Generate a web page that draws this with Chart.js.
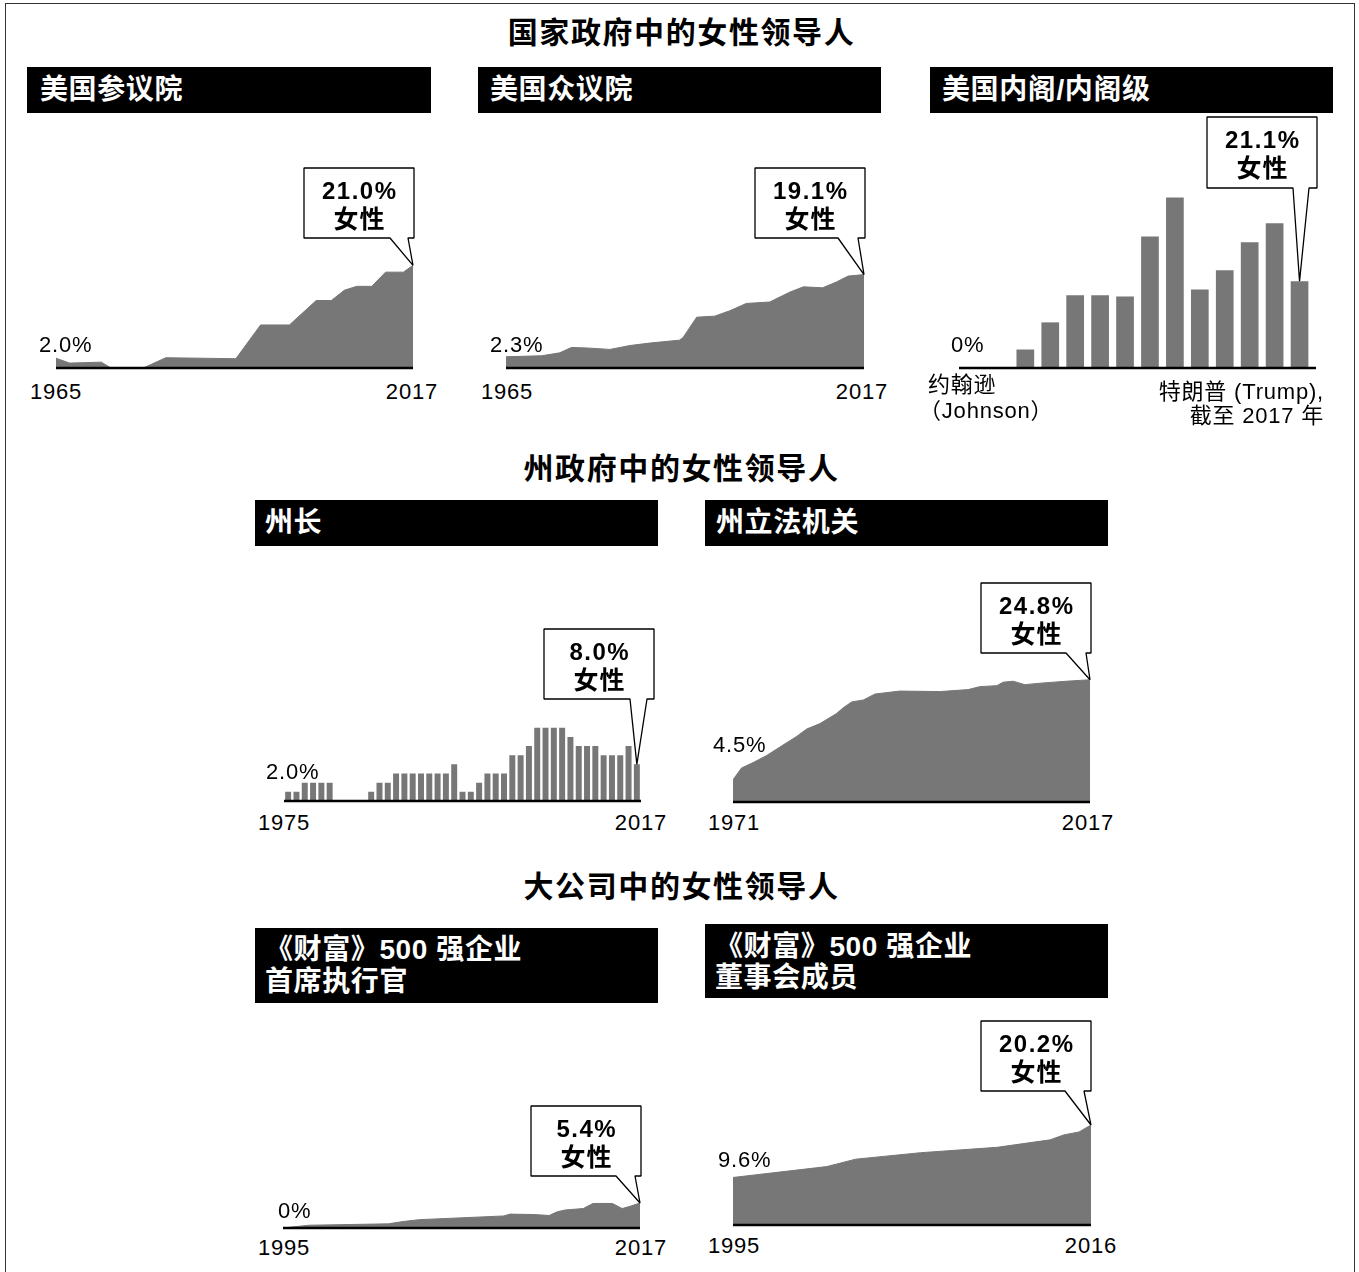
<!DOCTYPE html>
<html>
<head>
<meta charset="utf-8">
<script src="https://cdn.jsdelivr.net/npm/chart.js@4.4.1/dist/chart.umd.min.js"></script>
<style>
  body { margin: 0; width: 1359px; height: 1272px; position: relative; background: #fff; overflow: hidden;
         font-family: "Liberation Sans", "Noto Sans CJK SC", sans-serif; }
  .frame { position: absolute; left: 5px; top: 3px; width: 1348px; height: 1300px; border: 1px solid #333; }
  .title { position: absolute; left: 0; width: 1363px; text-align: center; font-family: "Noto Sans CJK SC", sans-serif;
           font-weight: bold; font-size: 30px; letter-spacing: 1.6px; line-height: 40px; color: #000; }
  .hdr { position: absolute; background: #000; color: #fff; font-weight: bold; font-size: 28px; letter-spacing: 0.6px;
         box-sizing: border-box; white-space: nowrap; }
  .panel { position: absolute; }
  .lbl { position: absolute; font-size: 22px; letter-spacing: 0.8px; line-height: 24px; white-space: nowrap; color: #000; }
</style>
</head>
<body>
<div class="frame"></div>

<div class="title" style="top:10px">国家政府中的女性领导人</div>
<div class="title" style="top:446px">州政府中的女性领导人</div>
<div class="title" style="top:864px">大公司中的女性领导人</div>

<div class="hdr" style="left:27px;top:67px;width:404px;height:46px;line-height:46px;padding-left:13px">美国参议院</div>
<div class="hdr" style="left:478px;top:67px;width:403px;height:46px;line-height:46px;padding-left:12px">美国众议院</div>
<div class="hdr" style="left:930px;top:67px;width:403px;height:46px;line-height:46px;padding-left:12px">美国内阁/内阁级</div>
<div class="hdr" style="left:255px;top:500px;width:403px;height:46px;line-height:46px;padding-left:10px">州长</div>
<div class="hdr" style="left:705px;top:500px;width:403px;height:46px;line-height:46px;padding-left:11px">州立法机关</div>
<div class="hdr" style="left:255px;top:928px;width:403px;height:75px;line-height:32px;padding:6px 0 0 10px">《财富》500 强企业<br>首席执行官</div>
<div class="hdr" style="left:705px;top:924px;width:403px;height:74px;line-height:31px;padding:7px 0 0 10px">《财富》500 强企业<br>董事会成员</div>

<script>
// ---- data ----
const senateYears = [1965, 1967, 1971.6, 1973, 1977.7, 1981, 1991.2, 1994.8, 1999, 2002.9, 2005.1, 2007, 2008.8, 2011, 2013, 2015.6, 2017];
const senateValues = [2.0, 1.0, 1.2, 0, 0, 2.1, 1.9, 8.8, 8.8, 13.8, 13.8, 15.9, 16.7, 16.7, 19.6, 19.6, 21.0];

const houseYears = [1965, 1970.2, 1972.8, 1974.5, 1976.7, 1980.1, 1983, 1985.9, 1990.2, 1990.7, 1992.7, 1995.3, 1997.5, 1999.9, 2003.3, 2006.2, 2008.2, 2011, 2013, 2014.7, 2017];
const houseValues = [2.3, 2.5, 3.1, 4.2, 4.1, 3.8, 4.6, 5.1, 5.7, 6.2, 10.4, 10.6, 11.7, 13.2, 13.5, 15.5, 16.6, 16.4, 17.6, 18.8, 19.1];

const cabinetLabels = ['约翰逊', '尼克松', '福特', '卡特', '里根 I', '里根 II', '老布什', '克林顿 I', '克林顿 II',
                       '小布什 I', '小布什 II', '奥巴马 I', '奥巴马 II', '特朗普'];
const cabinetValues = [0, 0, 4.5, 11.1, 17.7, 17.7, 17.4, 32.0, 41.5, 19.1, 23.8, 30.6, 35.2, 21.1];

const governorYears = ['1975', '1976', '1977', '1978', '1979', '1980', '1981', '1982', '1983', '1984', '1985',
                       '1986', '1987', '1988', '1989', '1990', '1991', '1992', '1993', '1994', '1995', '1996',
                       '1997', '1998', '1999', '2000', '2001', '2002', '2003', '2004', '2005', '2006', '2007',
                       '2008', '2009', '2010', '2011', '2012', '2013', '2014', '2015', '2016', '2017'];
const governorValues = [2, 2, 4, 4, 4, 4, 0, 0, 0, 0, 2, 4, 4, 6, 6, 6, 6, 6, 6, 6, 8, 2,
                        2, 4, 6, 6, 6, 10, 10, 12, 16, 16, 16, 16, 14, 12, 12, 12, 10, 10, 10, 12, 8];

const stateYears = [1971, 1972.1, 1973.6, 1975.3, 1977.2, 1979.2, 1980.5, 1982.2, 1984.3, 1985.2, 1986.3, 1987.8,
                    1989.3, 1992.5, 1997.7, 2001.3, 2002.8, 2005, 2005.8, 2007.1, 2008.6, 2010.6, 2014, 2017];
const stateValues = [4.5, 6.9, 8.0, 9.4, 11.3, 13.3, 14.8, 15.9, 17.9, 19.1, 20.3, 20.7,
                     21.9, 22.5, 22.4, 22.8, 23.4, 23.6, 24.3, 24.5, 23.8, 24.1, 24.5, 24.8];

const ceoYears = [1995, 1996.6, 2001.5, 2002.4, 2003.4, 2008.6, 2009, 2010.5, 2011.4, 2011.9, 2012.4, 2013.5, 2014.1, 2015.3, 2015.9, 2016.4, 2017];
const ceoValues = [0, 0.6, 0.9, 1.4, 1.8, 2.6, 3.0, 2.9, 2.7, 3.5, 3.9, 4.2, 5.3, 5.3, 4.2, 4.7, 5.4];

const boardYears = [1995, 2000.5, 2002.2, 2006, 2010.5, 2013.6, 2014.4, 2015.3, 2016];
const boardValues = [9.6, 11.8, 13.3, 14.6, 15.7, 17.2, 18.2, 18.8, 20.2];

const GRAY = '#777777';

// baseline + callout drawn on top of each small chart
const panelPlugin = {
  id: 'panel',
  afterDatasetsDraw(chart, args, opts) {
    const ctx = chart.ctx;
    const area = chart.chartArea;
    const y0 = chart.scales.y.getPixelForValue(0);
    ctx.save();
    ctx.strokeStyle = '#000';
    ctx.lineWidth = 2.5;
    ctx.beginPath();
    ctx.moveTo(area.left - opts.extend, y0);
    ctx.lineTo(area.right + opts.extend, y0);
    ctx.stroke();
    ctx.restore();
  },
  afterDraw(chart, args, opts) {
    const c = opts.callout;
    const meta = chart.getDatasetMeta(0);
    const last = meta.data[meta.data.length - 1];
    const ctx = chart.ctx;
    const bottom = c.y + c.h;
    ctx.save();
    ctx.beginPath();
    ctx.moveTo(c.tailL, bottom);
    ctx.lineTo(c.x, bottom);
    ctx.lineTo(c.x, c.y);
    ctx.lineTo(c.x + c.w, c.y);
    ctx.lineTo(c.x + c.w, bottom);
    ctx.lineTo(c.tailR, bottom);
    ctx.lineTo(last.x, last.y);
    ctx.closePath();
    ctx.fillStyle = '#fff';
    ctx.fill();
    ctx.lineJoin = 'bevel';
    ctx.lineWidth = 1.3;
    ctx.strokeStyle = '#000';
    ctx.stroke();
    ctx.fillStyle = '#000';
    ctx.textAlign = 'center';
    ctx.textBaseline = 'middle';
    const cx = c.x + c.w / 2;
    ctx.letterSpacing = '1.5px';
    ctx.font = 'bold 24px "Liberation Sans", sans-serif';
    ctx.fillText(c.pct, cx + 0.75, c.y + 24);
    ctx.letterSpacing = '1px';
    ctx.font = 'bold 25px "Noto Sans CJK SC", sans-serif';
    ctx.fillText('女性', cx + 0.5, c.y + 50);
    ctx.restore();
  }
};

const makePanel = (cfg) => {
  const wrap = document.createElement('div');
  wrap.className = 'panel';
  wrap.style.left = cfg.box.x + 'px';
  wrap.style.top = cfg.box.y + 'px';
  wrap.style.width = cfg.box.w + 'px';
  wrap.style.height = cfg.box.h + 'px';
  const canvas = document.createElement('canvas');
  wrap.appendChild(canvas);
  document.body.appendChild(wrap);

  const top = cfg.plot.b - cfg.yMax * cfg.pxPer;
  const padding = {
    left: cfg.plot.l - cfg.box.x,
    right: cfg.box.x + cfg.box.w - cfg.plot.r,
    top: top - cfg.box.y,
    bottom: cfg.box.y + cfg.box.h - cfg.plot.b
  };
  const callout = {
    x: cfg.callout.x - cfg.box.x, y: cfg.callout.y - cfg.box.y,
    w: cfg.callout.w, h: cfg.callout.h,
    tailL: cfg.callout.tailL - cfg.box.x, tailR: cfg.callout.tailR - cfg.box.x,
    pct: cfg.callout.pct
  };

  let data, xScale;
  if (cfg.type === 'bar') {
    data = {
      labels: cfg.labels,
      datasets: [{ data: cfg.values, backgroundColor: GRAY, barPercentage: cfg.barPct, categoryPercentage: 1 }]
    };
    xScale = { display: false };
  } else {
    data = {
      datasets: [{
        data: cfg.years.map((x, i) => ({ x, y: cfg.values[i] })),
        fill: 'origin', backgroundColor: GRAY, borderColor: GRAY, borderWidth: 1,
        pointRadius: 0, tension: 0
      }]
    };
    xScale = { type: 'linear', display: false, min: cfg.years[0], max: cfg.years[cfg.years.length - 1] };
  }

  new Chart(canvas, {
    type: cfg.type,
    data,
    options: {
      responsive: true,
      maintainAspectRatio: false,
      animation: false,
      events: [],
      layout: { padding },
      scales: { x: xScale, y: { display: false, min: 0, max: cfg.yMax } },
      plugins: {
        legend: { display: false },
        tooltip: { enabled: false },
        panel: { extend: cfg.extend || 0, callout }
      }
    },
    plugins: [panelPlugin]
  });
};

makePanel({ type: 'line', years: senateYears, values: senateValues,
  box: { x: 20, y: 114, w: 430, h: 262 }, plot: { l: 56, r: 413, b: 368 }, yMax: 24, pxPer: 4.89,
  callout: { x: 304, y: 168, w: 110, h: 70, tailL: 390, tailR: 408, pct: '21.0%' } });

makePanel({ type: 'line', years: houseYears, values: houseValues,
  box: { x: 470, y: 114, w: 430, h: 262 }, plot: { l: 506, r: 864, b: 368 }, yMax: 24, pxPer: 4.89,
  callout: { x: 755, y: 168, w: 110, h: 70, tailL: 838, tailR: 858, pct: '19.1%' } });

makePanel({ type: 'bar', labels: cabinetLabels, values: cabinetValues, barPct: 0.71, extend: 4,
  box: { x: 925, y: 110, w: 420, h: 266 }, plot: { l: 963, r: 1312, b: 368 }, yMax: 45, pxPer: 4.11,
  callout: { x: 1207, y: 117, w: 110, h: 71, tailL: 1293, tailR: 1309, pct: '21.1%' } });

makePanel({ type: 'bar', labels: governorYears, values: governorValues, barPct: 0.72,
  box: { x: 250, y: 550, w: 420, h: 258 }, plot: { l: 284, r: 641, b: 801 }, yMax: 20, pxPer: 4.58,
  callout: { x: 544, y: 629, w: 110, h: 70, tailL: 630, tailR: 647, pct: '8.0%' } });

makePanel({ type: 'line', years: stateYears, values: stateValues,
  box: { x: 700, y: 550, w: 420, h: 258 }, plot: { l: 733, r: 1090, b: 802 }, yMax: 27, pxPer: 4.93,
  callout: { x: 981, y: 583, w: 110, h: 70, tailL: 1066, tailR: 1086, pct: '24.8%' } });

makePanel({ type: 'line', years: ceoYears, values: ceoValues,
  box: { x: 250, y: 1005, w: 420, h: 230 }, plot: { l: 283, r: 640, b: 1228 }, yMax: 10, pxPer: 4.63,
  callout: { x: 531, y: 1106, w: 110, h: 70, tailL: 616, tailR: 635, pct: '5.4%' } });

makePanel({ type: 'line', years: boardYears, values: boardValues,
  box: { x: 700, y: 1000, w: 420, h: 232 }, plot: { l: 733, r: 1091, b: 1225 }, yMax: 24, pxPer: 4.95,
  callout: { x: 981, y: 1021, w: 110, h: 70, tailL: 1065, tailR: 1084, pct: '20.2%' } });

// ---- axis annotations (text) ----
const labels = [
  { t: '2.0%', x: 39, cy: 345 }, { t: '1965', x: 30, cy: 392 }, { t: '2017', r: 437, cy: 392 },
  { t: '2.3%', x: 490, cy: 345 }, { t: '1965', x: 481, cy: 392 }, { t: '2017', r: 887, cy: 392 },
  { t: '0%', x: 951, cy: 345 }, { t: '约翰逊', x: 928, cy: 385 }, { t: '（Johnson）', x: 919, cy: 411 },
  { t: '特朗普 (Trump),', r: 1323, cy: 392 }, { t: '截至 2017 年', r: 1323, cy: 416 },
  { t: '2.0%', x: 266, cy: 772 }, { t: '1975', x: 258, cy: 823 }, { t: '2017', r: 666, cy: 823 },
  { t: '4.5%', x: 713, cy: 745 }, { t: '1971', x: 708, cy: 823 }, { t: '2017', r: 1113, cy: 823 },
  { t: '0%', x: 278, cy: 1211 }, { t: '1995', x: 258, cy: 1248 }, { t: '2017', r: 666, cy: 1248 },
  { t: '9.6%', x: 718, cy: 1160 }, { t: '1995', x: 708, cy: 1246 }, { t: '2016', r: 1116, cy: 1246 }
];
labels.forEach(l => {
  const d = document.createElement('div');
  d.className = 'lbl';
  d.textContent = l.t;
  d.style.top = (l.cy - 12) + 'px';
  if (l.r !== undefined) d.style.right = (1359 - l.r - 1) + 'px';
  else d.style.left = l.x + 'px';
  document.body.appendChild(d);
});
</script>
</body>
</html>
